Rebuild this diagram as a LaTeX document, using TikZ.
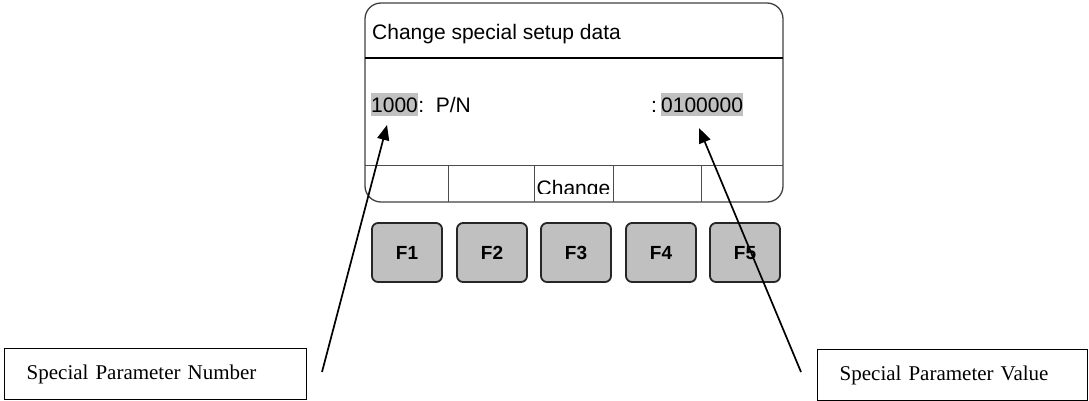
\documentclass[tikz,border=0pt]{standalone}
\usepackage{fontspec}
\setmainfont{Liberation Sans}
\newfontfamily\labelfont{Liberation Serif}
\usetikzlibrary{arrows.meta}
\definecolor{hl}{RGB}{192,192,192}
\definecolor{keyfill}{RGB}{192,192,192}
\begin{document}
\begin{tikzpicture}[x=1pt,y=-1pt,
  screen/.style={draw=black!75, line width=1.3pt, rounded corners=16pt, minimum width=418pt, minimum height=199pt, inner sep=0pt},
  scrtext/.style={font=\fontsize{21}{25}\selectfont, inner sep=0pt},
  hltext/.style={scrtext, fill=hl, text height=19pt, text depth=4pt},
  fkey/.style={draw=black!85, line width=1.8pt, fill=keyfill, rounded corners=6pt, minimum width=70pt, minimum height=59pt, inner sep=0pt, text height=14pt, text depth=0pt, font=\fontsize{19}{22}\selectfont\bfseries},
  lblbox/.style={draw, line width=1.4pt, minimum height=51pt, inner xsep=22pt, inner ysep=0pt, align=left, font=\labelfont\fontsize{21}{25}\selectfont},
  ptr/.style={line width=1.7pt, -{Triangle[length=15pt,width=12pt]}}
]
\useasboundingbox (0,0) rectangle (1089,400);

% screen
\node[screen] (scr) at (574,102.5) {};
\coordinate (hl1) at (365,58);
\coordinate (hr1) at (783,58);
\draw[line width=2pt] (hl1) -- (hr1);
\coordinate (sl) at (365,165);
\coordinate (sr) at (783,165);
\draw[line width=1pt, black!70] (sl) -- (sr);
\foreach \x/\n in {448/a,534/b,613/c,701/d}{
  \coordinate (dt\n) at (\x,165);
  \coordinate (db\n) at (\x,202);
  \draw[line width=1pt, black!70] (dt\n) -- (db\n);
}

\node[scrtext, anchor=base west] (title) at (372,39) {Change special setup data};
\node[hltext, anchor=base west] (num) at (371,112) {1000};
\node[scrtext, anchor=base west] (pn) at (num.base east) {:\ \ P/N};
\node[scrtext, anchor=base west] (colon) at (651,112) {:};
\node[hltext, anchor=base west] (val) at (661,112) {0100000};

\begin{scope}
  \clip (534,165) rectangle (613,193);
  \node[scrtext, anchor=base] (chg) at (573.5,195) {Change};
\end{scope}

% function keys
\node[fkey] (f1) at (407,252.5) {F1};
\node[fkey] (f2) at (492,252.5) {F2};
\node[fkey] (f3) at (576,252.5) {F3};
\node[fkey] (f4) at (661,252.5) {F4};
\node[fkey] (f5) at (745,252.5) {F5};

% label boxes
\node[lblbox, text width=258pt, anchor=north west] (spn) at (4,348) {Special Parameter Number};
\node[lblbox, text width=226pt, anchor=north west] (spv) at (817,349) {Special Parameter Value};

% pointers
\coordinate (a1s) at (322,372);
\coordinate (a1e) at (387,125);
\coordinate (a2s) at (801,372);
\coordinate (a2e) at (699,128);
\draw[ptr] (a1s) -- (a1e);
\draw[ptr] (a2s) -- (a2e);
\end{tikzpicture}
\end{document}
